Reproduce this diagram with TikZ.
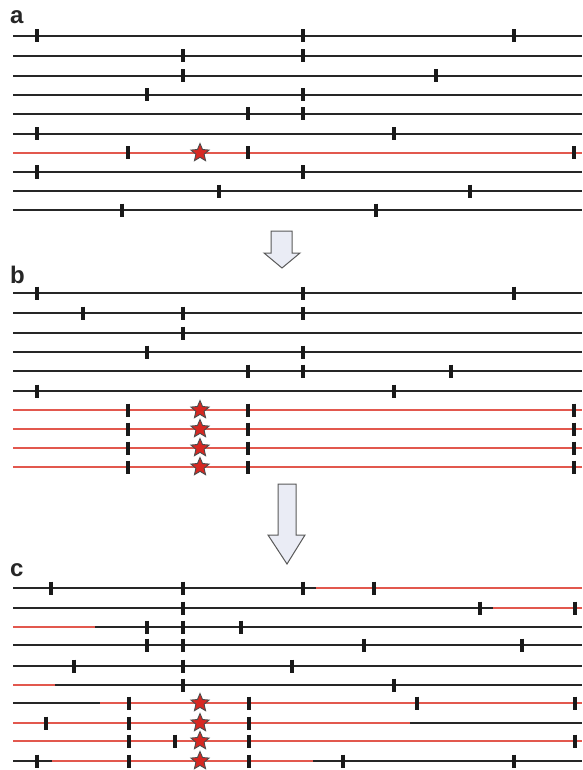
\documentclass[tikz,border=0pt]{standalone}
\usepackage{fontspec}
\setmainfont{Liberation Sans}
\usetikzlibrary{shapes.geometric}
\definecolor{chrred}{RGB}{226,88,78}
\definecolor{starred}{RGB}{214,40,34}
\definecolor{arrowfill}{RGB}{234,236,245}
\newcommand\tkmark[2]{\draw[tkline] (#1,{#2-6.5}) -- (#1,{#2+6.5});}
\begin{document}
\begin{tikzpicture}[x=1pt,y=-1pt,
  blk/.style={line width=2.1pt, color=black!85},
  redl/.style={line width=1.6pt, color=chrred},
  tkline/.style={line width=3.2pt, color=black!90},
  mut/.style={star, star points=5, star point ratio=2.2, minimum size=19pt, inner sep=0pt, fill=starred, draw=black!70, line width=0.9pt},
  lbl/.style={font=\bfseries\fontsize{24}{24}\selectfont, anchor=base west, inner sep=0pt, text=black!85},
  bigarrow/.style={fill=arrowfill, draw=black!65, line width=1pt, line join=miter}]
\useasboundingbox (0,0) rectangle (582,770);

% ---------- panel a ----------
\node[lbl] (la) at (10,24) {a};
\foreach \y/\ticks in {36/{37,303,514}, 56/{183,303}, 76/{183,436}, 95/{147,303}, 114/{248,303}, 134/{37,394}, 172/{37,303}, 191/{219,470}, 210/{122,376}}{
  \draw[blk] (13,\y) -- (582,\y);
  \foreach \x in \ticks {\tkmark{\x}{\y}}
}
\draw[redl] (13,153) -- (582,153);
\foreach \x in {128,248,574} {\tkmark{\x}{153}}
\node[mut] (sa) at (200,153) {};

% arrow 1
\draw[bigarrow] (271,231) -- (292,231) -- (292,253) -- (300,253) -- (282,268) -- (264,253) -- (271,253) -- cycle;

% ---------- panel b ----------
\node[lbl] (lb) at (10,283) {b};
\foreach \y/\ticks in {293/{37,303,514}, 313/{83,183,303}, 333/{183}, 352/{147,303}, 371/{248,303,451}, 391/{37,394}}{
  \draw[blk] (13,\y) -- (582,\y);
  \foreach \x in \ticks {\tkmark{\x}{\y}}
}
\foreach \y [count=\i] in {410,429,448,467}{
  \draw[redl] (13,\y) -- (582,\y);
  \foreach \x in {128,248,574} {\tkmark{\x}{\y}}
  \node[mut] (sb\i) at (200,\y) {};
}

% arrow 2
\draw[bigarrow] (278,484) -- (296,484) -- (296,535) -- (305,535) -- (287,564) -- (268,535) -- (278,535) -- cycle;

% ---------- panel c ----------
\node[lbl] (lc) at (10,576) {c};
% row 1
\draw[blk] (13,588) -- (316,588); \draw[redl] (316,588) -- (582,588);
\foreach \x in {51,183,303,374} {\tkmark{\x}{588}}
% row 2
\draw[blk] (13,608) -- (493,608); \draw[redl] (493,608) -- (582,608);
\foreach \x in {183,480,575} {\tkmark{\x}{608}}
% row 3
\draw[redl] (13,627) -- (95,627); \draw[blk] (95,627) -- (582,627);
\foreach \x in {147,183,241} {\tkmark{\x}{627}}
% row 4
\draw[blk] (13,645) -- (582,645);
\foreach \x in {147,183,364,522} {\tkmark{\x}{645}}
% row 5
\draw[blk] (13,666) -- (582,666);
\foreach \x in {74,183,292} {\tkmark{\x}{666}}
% row 6
\draw[redl] (13,685) -- (55,685); \draw[blk] (55,685) -- (582,685);
\foreach \x in {183,394} {\tkmark{\x}{685}}
% row 7
\draw[blk] (13,703) -- (100,703); \draw[redl] (100,703) -- (582,703);
\foreach \x in {129,249,417,575} {\tkmark{\x}{703}}
\node[mut] (sc1) at (200,703) {};
% row 8
\draw[redl] (13,723) -- (410,723); \draw[blk] (410,723) -- (582,723);
\foreach \x in {46,129,249} {\tkmark{\x}{723}}
\node[mut] (sc2) at (200,723) {};
% row 9
\draw[redl] (13,741) -- (582,741);
\foreach \x in {129,175,249,575} {\tkmark{\x}{741}}
\node[mut] (sc3) at (200,741) {};
% row 10
\draw[blk] (13,761) -- (52,761); \draw[redl] (52,761) -- (313,761); \draw[blk] (313,761) -- (582,761);
\foreach \x in {37,129,249,343,514} {\tkmark{\x}{761}}
\node[mut] (sc4) at (200,761) {};
\end{tikzpicture}
\end{document}
